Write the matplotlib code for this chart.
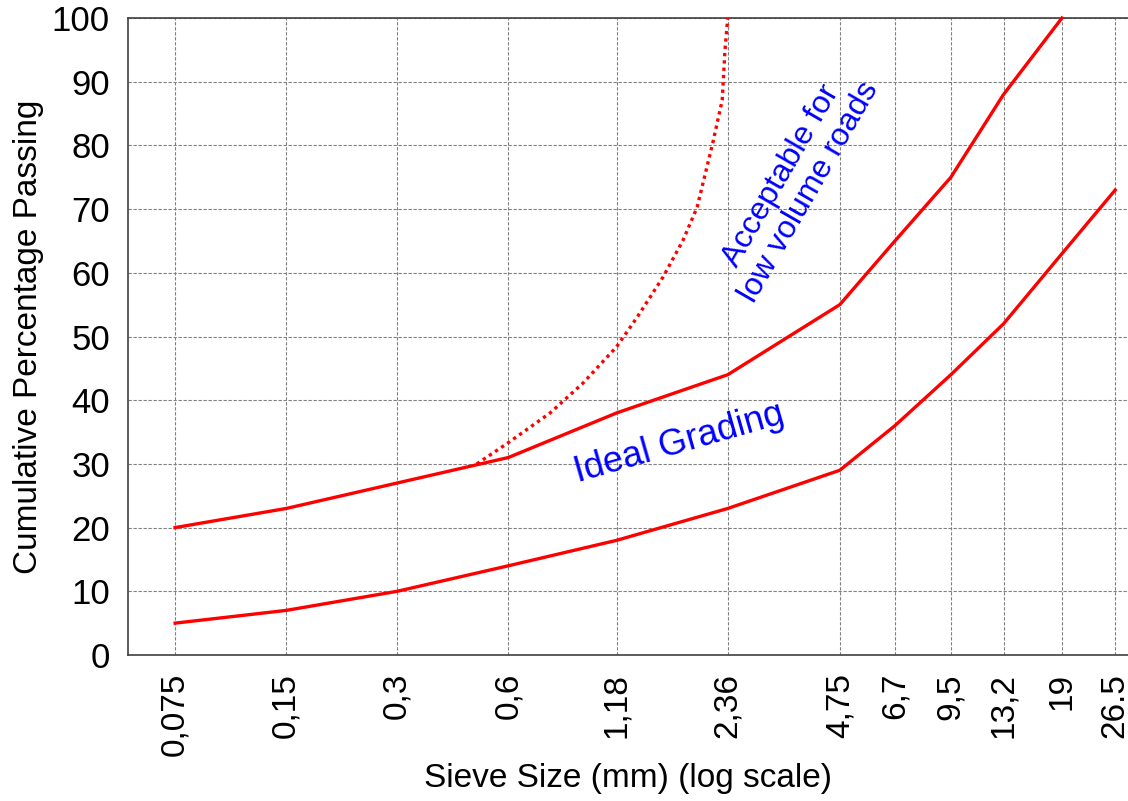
import matplotlib
matplotlib.use("Agg")
import matplotlib.pyplot as plt

plt.rcParams['font.family'] = ['Liberation Sans', 'DejaVu Sans']

# sieve sizes (mm)
sieves = [0.075, 0.15, 0.3, 0.6, 1.18, 2.36, 4.75, 6.7, 9.5, 13.2, 19, 26.5]
tick_labels = ['0,075', '0,15', '0,3', '0,6', '1,18', '2,36', '4,75', '6,7', '9,5', '13,2', '19', '26.5']

# envelope curves
upper_x = [0.075, 0.15, 0.3, 0.6, 1.18, 2.36, 4.75, 6.7, 9.5, 13.2, 19]
upper_y = [20, 23, 27, 31, 38, 44, 55, 65, 75, 88, 100]
lower_x = sieves
lower_y = [5, 7, 10, 14, 18, 23, 29, 36, 44, 52, 63, 73]

# acceptable limit for low volume roads (dotted)
acc_x = [0.493, 0.599, 0.779, 0.957, 1.18, 1.34, 1.575, 1.785, 1.95, 2.15, 2.28, 2.32, 2.36]
acc_y = [30, 33.3, 38, 42.7, 48.4, 53, 59.3, 65.1, 70.3, 80.4, 87.1, 95, 100]

fig = plt.figure(figsize=(11.28, 8.01), dpi=100)
ax = fig.add_axes([0.1135, 0.1823, 0.8865, 0.7952])

ax.plot(upper_x, upper_y, color='#ff0000', lw=2.4, clip_on=False, zorder=3)
ax.plot(lower_x, lower_y, color='#ff0000', lw=2.4, clip_on=False, zorder=3)
ax.plot(acc_x, acc_y, color='#ff0000', lw=2.4, linestyle=(0, (1, 1.2)), clip_on=False, zorder=3)

ax.set_xscale('log')
ax.set_xlim(0.0559, 28.7)
ax.set_ylim(0, 100)
ax.set_xticks(sieves)
ax.set_xticklabels(tick_labels, rotation=90, fontsize=24)
ax.minorticks_off()
ax.set_yticks(range(0, 101, 10))
ax.tick_params(axis='both', length=0)
ax.tick_params(axis='y', pad=13, labelsize=25)
ax.tick_params(axis='x', pad=13)

ax.grid(True, color='#808080', linestyle=(0, (3, 1.5)), linewidth=0.8)
ax.spines['right'].set_visible(False)
for s in ['left', 'top', 'bottom']:
    ax.spines[s].set_color('#404040')
    ax.spines[s].set_linewidth(1.2)

ax.set_xlabel('Sieve Size (mm) (log scale)', fontsize=24, labelpad=5)
ax.set_ylabel('Cumulative Percentage Passing', fontsize=24, labelpad=6)

ax.text(3.59, 74, 'Acceptable for\nlow volume roads', color='#0000ff', fontsize=23,
        rotation=60, ha='center', va='center', linespacing=1.1)
ax.text(1.74, 33.3, 'Ideal Grading', color='#0000ff', fontsize=26,
        rotation=16, ha='center', va='center')

fig.savefig('out.png', dpi=100)
